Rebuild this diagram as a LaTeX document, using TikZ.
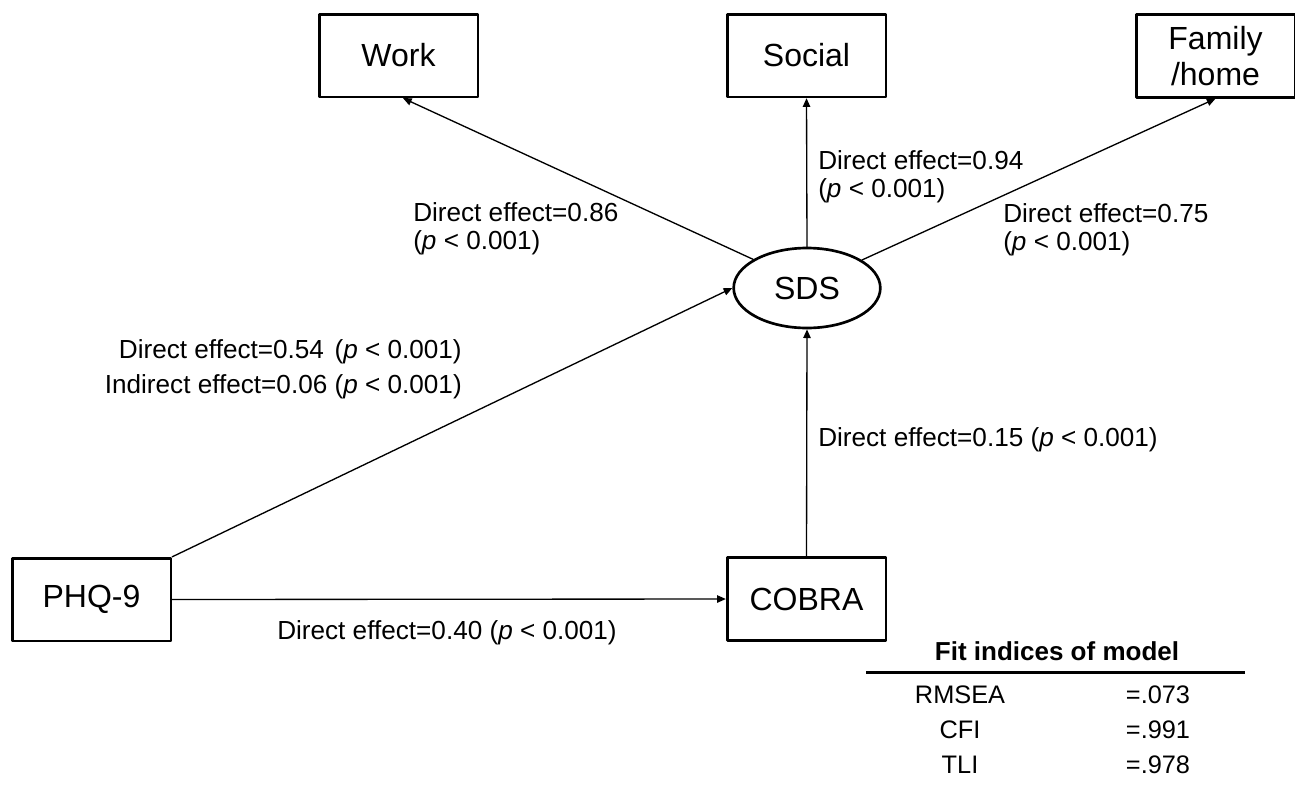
\documentclass[tikz,border=0pt]{standalone}
\usepackage{fontspec}
\setmainfont{Liberation Sans}
\usetikzlibrary{shapes.geometric,arrows.meta}
\tikzset{
  obsbox/.style={draw,line width=2pt,minimum width=119pt,minimum height=62pt,inner sep=2pt,align=center,font=\fontsize{24}{27}\selectfont},
  latent/.style={draw,ellipse,line width=2pt,minimum width=110pt,minimum height=60pt,inner sep=0pt,font=\fontsize{24}{27}\selectfont},
  efflabel/.style={align=left,inner sep=0pt,font=\fontsize{19.6}{21}\selectfont},
  fitrow/.style={inner sep=0pt,font=\fontsize{19}{21}\selectfont},
  effarrow/.style={line width=1pt,-{Triangle[length=6.5pt,width=5.5pt]}}
}
\begin{document}
\begin{tikzpicture}[x=0.75pt,y=-0.75pt,line cap=round,line join=round]
  \useasboundingbox (0,0) rectangle (1295,789);
  % outcome domains
  \node[obsbox] (work) at (398.5,55.5) {Work};
  \node[obsbox] (social) at (806.5,55.5) {Social};
  \node[obsbox] (family) at (1215.5,56) {Family\\/home};
  % latent and predictors
  \node[latent] (sds) at (807,288) {SDS};
  \node[obsbox] (phq) at (91.5,599.5) {PHQ-9};
  \node[obsbox] (cobra) at (806.5,599) {COBRA};

  \draw[effarrow] (sds.152) -- (work.-84);
  \draw[effarrow] (sds.north) -- (social.south);
  \draw[effarrow] (sds.27) -- (family.south);
  \draw[effarrow] (phq.north east) -- (sds.west);
  \draw[effarrow] (cobra.north) -- (sds.south);
  \draw[effarrow] (phq.east) -- (cobra.west);

  % path labels
  \node[efflabel,anchor=west] (lwork) at (413,229) {Direct effect=0.86\\(\textit{p} < 0.001)};
  \node[efflabel,anchor=west] (lsocial) at (818,176.5) {Direct effect=0.94\\(\textit{p} < 0.001)};
  \node[efflabel,anchor=west] (lfamily) at (1003,230) {Direct effect=0.75\\(\textit{p} < 0.001)};
  \node[efflabel,anchor=east] (lphqd) at (462,352) {Direct effect=0.54 \hspace{2.5pt}(\textit{p} < 0.001)};
  \node[efflabel,anchor=east] (lphqi) at (462,387) {Indirect effect=0.06 (\textit{p} < 0.001)};
  \node[efflabel,anchor=west] (lcobra) at (818,440) {Direct effect=0.15 (\textit{p} < 0.001)};
  \node[efflabel,anchor=west] (lphqc) at (277,633) {Direct effect=0.40 (\textit{p} < 0.001)};

  % fit indices
  \node[fitrow,font=\fontsize{19.5}{21}\selectfont\bfseries] (fithead) at (1057,651) {Fit indices of model};
  \draw[line width=2.25pt,line cap=butt] (866,672) -- (1245,672);
  \foreach \name/\val/\y in {RMSEA/.073/695,CFI/.991/730,TLI/.978/765} {
    \node[fitrow] (n\name) at (960,\y) {\name};
    \node[fitrow] (v\name) at (1158,\y) {=\val};
  }
\end{tikzpicture}
\end{document}
